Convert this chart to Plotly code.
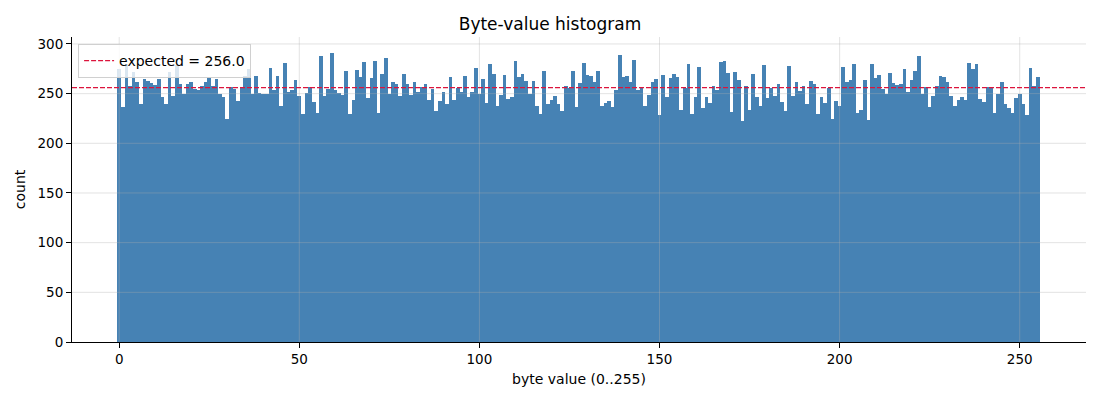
import plotly.graph_objects as go

# counts per byte value (bytes 0..255)
byte_values = list(range(256))
counts = [
  275, 237, 280, 258, 272, 262, 240, 265, 263, 261,
  259, 265, 247, 240, 272, 248, 279, 260, 250, 260,
  262, 255, 254, 258, 262, 267, 258, 265, 250, 247,
  224, 257, 255, 243, 256, 268, 275, 250, 268, 251,
  250, 250, 276, 254, 268, 238, 281, 252, 254, 264,
  248, 230, 251, 257, 242, 231, 288, 248, 255, 291,
  254, 251, 249, 273, 229, 244, 274, 267, 282, 246,
  266, 283, 231, 270, 286, 250, 262, 260, 248, 270,
  260, 249, 262, 252, 257, 260, 244, 255, 233, 243,
  252, 240, 267, 244, 256, 252, 268, 247, 252, 276,
  250, 265, 241, 280, 270, 238, 249, 269, 245, 247,
  283, 267, 270, 263, 250, 263, 238, 230, 273, 240,
  244, 248, 240, 233, 258, 256, 273, 237, 261, 281,
  269, 268, 262, 273, 238, 241, 243, 237, 254, 289,
  267, 268, 262, 284, 254, 256, 238, 249, 262, 265,
  228, 269, 247, 266, 270, 267, 234, 256, 280, 229,
  247, 277, 236, 247, 241, 258, 254, 282, 283, 271,
  232, 272, 264, 222, 258, 234, 270, 247, 238, 279,
  246, 256, 248, 260, 242, 233, 278, 248, 262, 253,
  258, 240, 263, 260, 230, 247, 241, 256, 224, 243,
  238, 277, 262, 264, 280, 231, 234, 264, 223, 280,
  266, 269, 255, 250, 271, 261, 259, 260, 275, 252,
  264, 273, 288, 250, 257, 237, 248, 258, 268, 267,
  262, 248, 238, 244, 247, 244, 281, 275, 280, 245,
  242, 257, 256, 231, 250, 262, 240, 236, 231, 246,
  250, 240, 228, 276, 258, 267,
]
total_bytes = 65536
expected = total_bytes / len(byte_values)

x_ticks = [0, 50, 100, 150, 200, 250]
y_ticks = [0, 50, 100, 150, 200, 250, 300]

bar_color = '#4682b4'
line_color = '#dc143c'
grid_color = 'rgba(176,176,176,0.35)'
font = 'DejaVu Sans'

fig = go.Figure()

fig.add_trace(go.Bar(
  x=byte_values,
  y=counts,
  width=1,
  marker=dict(color=bar_color, line=dict(width=0)),
  showlegend=False,
))

# grid drawn over the bars, like the original
for t in x_ticks:
  fig.add_vline(x=t, line_color=grid_color, line_width=1, layer='above')
for t in y_ticks[1:]:
  fig.add_hline(y=t, line_color=grid_color, line_width=1, layer='above')

fig.add_hline(
  y=expected,
  line_dash='5px,2px',
  line_color=line_color,
  line_width=1.3,
  showlegend=True,
  name=f'expected = {expected:.1f}',
)

fig.update_layout(
  width=1100,
  height=400,
  title=dict(
    text='Byte-value histogram',
    x=0.5,
    xanchor='center',
    y=0.955,
    yanchor='top',
    font=dict(size=17, color='black'),
  ),
  font=dict(family=font, size=13.5, color='black'),
  paper_bgcolor='white',
  plot_bgcolor='white',
  bargap=0,
  margin=dict(l=72, r=14, t=37, b=58),
  legend=dict(
    x=0.006,
    y=0.977,
    xanchor='left',
    yanchor='top',
    bgcolor='rgba(255,255,255,0.8)',
    bordercolor='#d0d0d0',
    borderwidth=1,
    font=dict(size=14),
  ),
)

fig.update_xaxes(
  range=[-13.1, 268.4],
  tickvals=x_ticks,
  ticks='outside',
  ticklen=5,
  tickcolor='black',
  showline=True,
  linecolor='black',
  linewidth=1,
  showgrid=False,
  zeroline=False,
  automargin=False,
  title=dict(text='byte value (0..255)', standoff=7, font=dict(size=14)),
)

fig.update_yaxes(
  range=[0, 307],
  tickvals=y_ticks,
  ticks='outside',
  ticklen=5,
  tickcolor='black',
  showline=True,
  linecolor='black',
  linewidth=1,
  showgrid=False,
  zeroline=False,
  automargin=False,
  title=dict(text='count', standoff=8, font=dict(size=14)),
)

# the page's default body margin would shift the whole chart by 8px
fig.write_html(
  'out.html',
  config={'displayModeBar': False},
  post_script='document.body.style.margin = "0";',
)
